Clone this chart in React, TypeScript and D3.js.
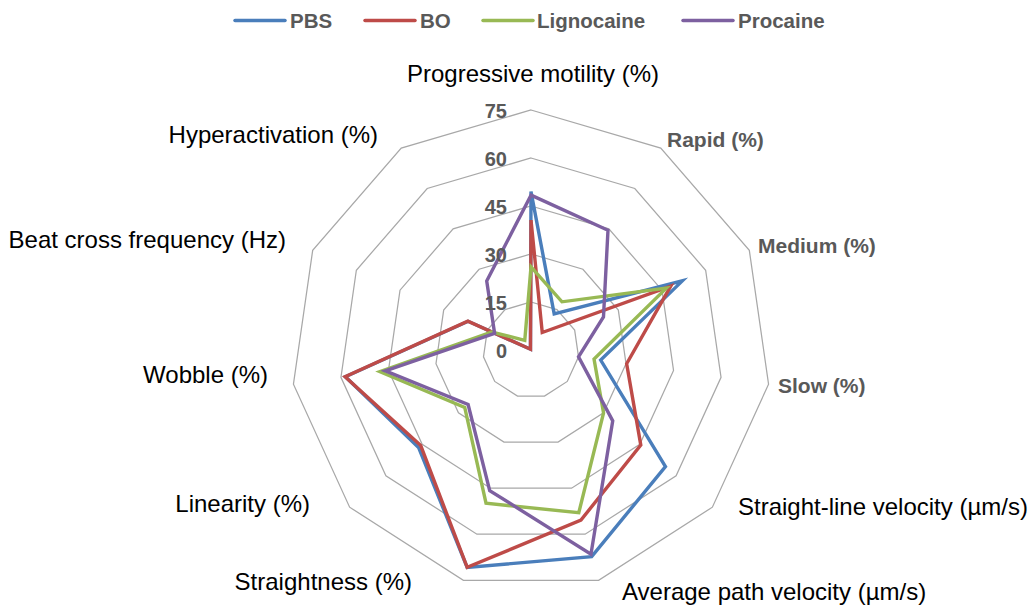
import React from "react"
import * as d3 from "d3"

const AXES = [
  "Progressive motility (%)",
  "Rapid (%)",
  "Medium (%)",
  "Slow (%)",
  "Straight-line velocity (µm/s)",
  "Average path velocity (µm/s)",
  "Straightness (%)",
  "Linearity (%)",
  "Wobble (%)",
  "Beat cross frequency (Hz)",
  "Hyperactivation (%)",
]

const PBS = [49.5, 13.4, 52, 22, 55.6, 67.3, 70.8, 46.5, 58.6, 21.6, 0.3]
const BO = [40.6, 6.5, 48, 30.2, 45.4, 55.4, 70.8, 45.6, 58.7, 21.7, 0.3]
const LIGNOCAINE = [26, 17.9, 46.5, 19.9, 30, 53, 49.9, 27.4, 47.7, 13.5, 3.6]
const PROCAINE = [48.4, 44.5, 24.9, 15, 33.8, 66.5, 45.8, 26, 46, 12.5, 25.6]

const TICKS = [0, 15, 30, 45, 60, 75]

const SERIES = [
  { name: "PBS", values: PBS, color: "#4A7EBB" },
  { name: "BO", values: BO, color: "#BE4B48" },
  { name: "Lignocaine", values: LIGNOCAINE, color: "#98B954" },
  { name: "Procaine", values: PROCAINE, color: "#7D60A0" },
]

// label placement per axis: [x, baseline, anchor, excel-style]
const LABEL_POS: [number, number, string, boolean][] = [
  [533, 82, "middle", false],
  [667, 147, "start", true],
  [758, 253, "start", true],
  [778, 393, "start", true],
  [738, 515, "start", false],
  [622, 600, "start", false],
  [412, 590, "end", false],
  [310, 512, "end", false],
  [268, 383, "end", false],
  [286, 248, "end", false],
  [378, 143, "end", false],
]

// legend: [line x, text x]
const LEGEND_X = [
  [235, 290],
  [365, 420],
  [483, 537],
  [683, 738],
]

const W = 1032
const H = 615
const CX = 531
const CY = 350
const R = 240
const GREY = "#595959"
const FONT = "'Liberation Sans', Arial, sans-serif"

export default function App() {
  const n = AXES.length
  const r = d3.scaleLinear().domain([0, 75]).range([0, R])
  const angle = (i: number) => (i * 2 * Math.PI) / n

  const radar = d3
    .lineRadial<number>()
    .angle((_, i) => angle(i))
    .radius(d => r(d))
    .curve(d3.curveLinearClosed)

  return (
    <svg
      width={W}
      height={H}
      style={{ position: "absolute", left: 0, top: 0, background: "#fff" }}
      fontFamily={FONT}
    >
      {/* Legend */}
      {SERIES.map((s, i) => (
        <g key={s.name}>
          <line
            x1={LEGEND_X[i][0]}
            x2={LEGEND_X[i][0] + 50}
            y1={20.5}
            y2={20.5}
            stroke={s.color}
            strokeWidth={3.5}
            strokeLinecap="round"
          />
          <text
            x={LEGEND_X[i][1]}
            y={27.5}
            fontSize={20.5}
            fontWeight="bold"
            fill={GREY}
          >
            {s.name}
          </text>
        </g>
      ))}

      <g transform={`translate(${CX},${CY})`}>
        {/* Grid rings */}
        {TICKS.filter(t => t > 0).map(t => (
          <path
            key={t}
            d={radar(AXES.map(() => t)) || ""}
            fill="none"
            stroke="#a8a8a8"
            strokeWidth={1.25}
          />
        ))}

        {/* Series */}
        {SERIES.map(s => (
          <path
            key={s.name}
            d={radar(s.values) || ""}
            fill="none"
            stroke={s.color}
            strokeWidth={3.4}
            strokeLinejoin="miter"
            strokeMiterlimit={6}
          />
        ))}

        {/* Tick labels */}
        {TICKS.map(t => (
          <text
            key={t}
            x={-24}
            y={-r(t) + 7.5}
            textAnchor="end"
            fontSize={20}
            fontWeight="bold"
            fill={GREY}
          >
            {t}
          </text>
        ))}
      </g>

      {/* Axis labels */}
      {AXES.map((a, i) => {
        const [x, y, anchor, excel] = LABEL_POS[i]
        return (
          <text
            key={a}
            x={x}
            y={y}
            textAnchor={anchor as any}
            fontSize={excel ? 21 : 24}
            fontWeight={excel ? "bold" : "normal"}
            fill={excel ? GREY : "#000"}
          >
            {a}
          </text>
        )
      })}
    </svg>
  )
}
